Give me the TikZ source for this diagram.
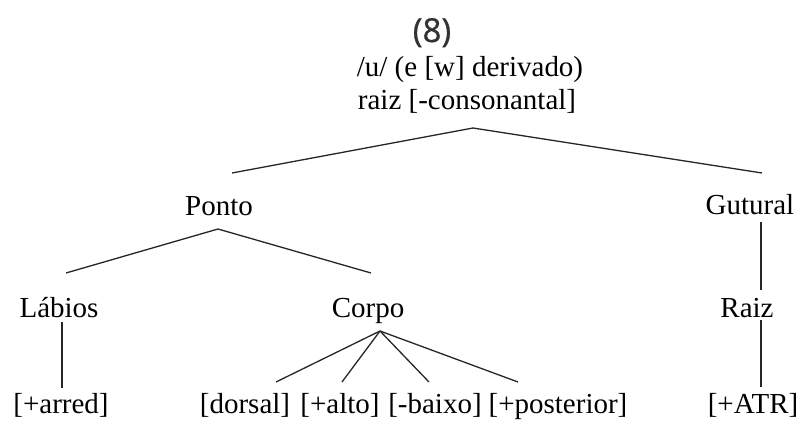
\documentclass[tikz,border=0pt]{standalone}
\usepackage{fontspec}
\setmainfont{Liberation Serif}
\newfontfamily\titlefont[FakeBold=0.8]{Open Sans}
\begin{document}
\begin{tikzpicture}[x=1pt,y=-1pt,
  lbl/.style={anchor=base,inner sep=0pt,text=black,font=\fontsize{29}{33}\selectfont},
  branch/.style={line width=1.3pt,draw=black!85}]
\useasboundingbox (0,0) rectangle (804,423);

% example number
\node[anchor=base,inner sep=0pt,text=black!80,font=\titlefont\fontsize{33}{38}\selectfont] (num) at (432,42) {(8)};

% root
\node[lbl] (root)  at (470,76)  {/u/ (e [w] derivado)};
\node[lbl] (rootf) at (467,109) {raiz [-consonantal]};

% second tier
\node[lbl] (ponto)   at (219,215) {Ponto};
\node[lbl] (gutural) at (750,214) {Gutural};

% third tier
\node[lbl] (labios) at (59,317)  {Lábios};
\node[lbl] (corpo)  at (368,317) {Corpo};
\node[lbl] (raiz)   at (747,317) {Raiz};

% features
\node[lbl] (arred) at (61,413)    {[+arred]};
\node[lbl] (dorsal) at (245,413)  {[dorsal]};
\node[lbl] (alto) at (340,413)    {[+alto]};
\node[lbl] (baixo) at (435,413)   {[-baixo]};
\node[lbl] (post) at (558,413)    {[+posterior]};
\node[lbl] (atr) at (753,413)     {[+ATR]};

% attachment points of the branches
\coordinate (rootf-bot) at (473,128);
\coordinate (ponto-top) at (232,173);
\coordinate (gutural-top) at (762,173);
\coordinate (ponto-bot) at (218,229);
\coordinate (labios-top) at (66,273);
\coordinate (corpo-top) at (371,273);
\coordinate (labios-bot) at (62,322);
\coordinate (arred-top) at (62,388);
\coordinate (corpo-bot) at (380,331);
\coordinate (dorsal-top) at (276,382);
\coordinate (alto-top) at (342,382);
\coordinate (baixo-top) at (429,382);
\coordinate (post-top) at (518,382);
\coordinate (gutural-bot) at (761,222);
\coordinate (raiz-top) at (761,290);
\coordinate (raiz-bot) at (761,320);
\coordinate (atr-top) at (761,387);

% branches
\draw[branch] (ponto-top) -- (rootf-bot) -- (gutural-top);
\draw[branch] (labios-top) -- (ponto-bot) -- (corpo-top);
\draw[branch] (labios-bot) -- (arred-top);
\draw[branch] (corpo-bot) -- (dorsal-top);
\draw[branch] (corpo-bot) -- (alto-top);
\draw[branch] (corpo-bot) -- (baixo-top);
\draw[branch] (corpo-bot) -- (post-top);
\draw[branch] (gutural-bot) -- (raiz-top);
\draw[branch] (raiz-bot) -- (atr-top);
\end{tikzpicture}
\end{document}
